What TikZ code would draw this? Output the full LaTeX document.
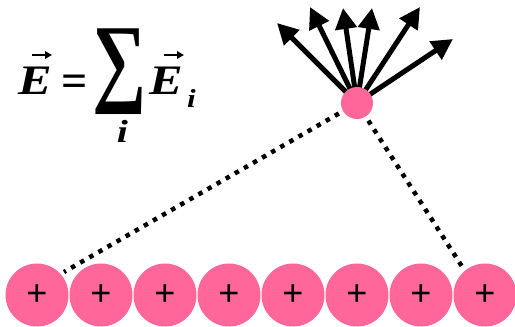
\documentclass[tikz,border=0pt]{standalone}
\usepackage{fontspec}
\setmainfont{Liberation Serif}
\newfontfamily\plusfont{Liberation Sans}
\usetikzlibrary{arrows.meta}
\definecolor{chargepink}{RGB}{255,102,153}
\tikzset{
  charge/.style={circle, fill=chargepink, minimum size=63pt, inner sep=0pt, font=\plusfont\fontsize{36}{36}\selectfont},
  testcharge/.style={circle, fill=chargepink, minimum size=32pt, inner sep=0pt},
  fieldarrow/.style={line width=5pt, -{Triangle[length=21pt,width=21pt]}},
  dotline/.style={line width=4.5pt, dash pattern=on 4.5pt off 6pt},
  formula/.style={inner sep=0pt, font=\bfseries\itshape},
  vecaccent/.style={line width=2.2pt, -{Triangle[length=7pt,width=7.5pt]}}
}
\begin{document}
\begin{tikzpicture}[x=1pt,y=-1pt]
\useasboundingbox (0,0) rectangle (515,327);
\coordinate (qc) at (357,103);
\coordinate (e1) at (64,272);
\coordinate (e2) at (463,268);
\coordinate (t1) at (277,23);
\coordinate (t2) at (310,7);
\coordinate (t3) at (343,8);
\coordinate (t4) at (372,8);
\coordinate (t5) at (420,7);
\coordinate (t6) at (453,39);
\draw[dotline] (qc) -- (e1);
\draw[dotline] (qc) -- (e2);
\foreach \t in {t1,t2,t3,t4,t5,t6} \draw[fieldarrow] (qc) -- (\t);
\node[testcharge] (q) at (qc) {};
\foreach \i in {1,...,8} \node[charge] (c\i) at ({37+64*(\i-1)},295) {+};
% formula
\node[formula, anchor=base west] (E1) at (18,94.5) {\scalebox{1.2}[1]{\fontsize{42}{42}\selectfont E}};
\coordinate (a1s) at (32,55);
\coordinate (a1e) at (52,55);
\draw[vecaccent] (a1s) -- (a1e);
\node[formula, anchor=center] (eq) at (75,86) {\fontsize{46}{46}\selectfont\upshape =};
\node[formula, anchor=center] (sum) at (120,72) {\scalebox{1}[1.3]{\fontsize{76}{76}\selectfont\upshape ∑}};
\node[formula, anchor=center] (isum) at (122.5,131) {\scalebox{1.25}[1]{\fontsize{32}{32}\selectfont i}};
\node[formula, anchor=base west] (E2) at (149,94.5) {\scalebox{1.2}[1]{\fontsize{42}{42}\selectfont E}};
\coordinate (a2s) at (164,55);
\coordinate (a2e) at (184,55);
\draw[vecaccent] (a2s) -- (a2e);
\node[formula, anchor=base west] (isub) at (187,107) {\scalebox{1.2}[1]{\fontsize{26}{26}\selectfont i}};
\end{tikzpicture}
\end{document}
